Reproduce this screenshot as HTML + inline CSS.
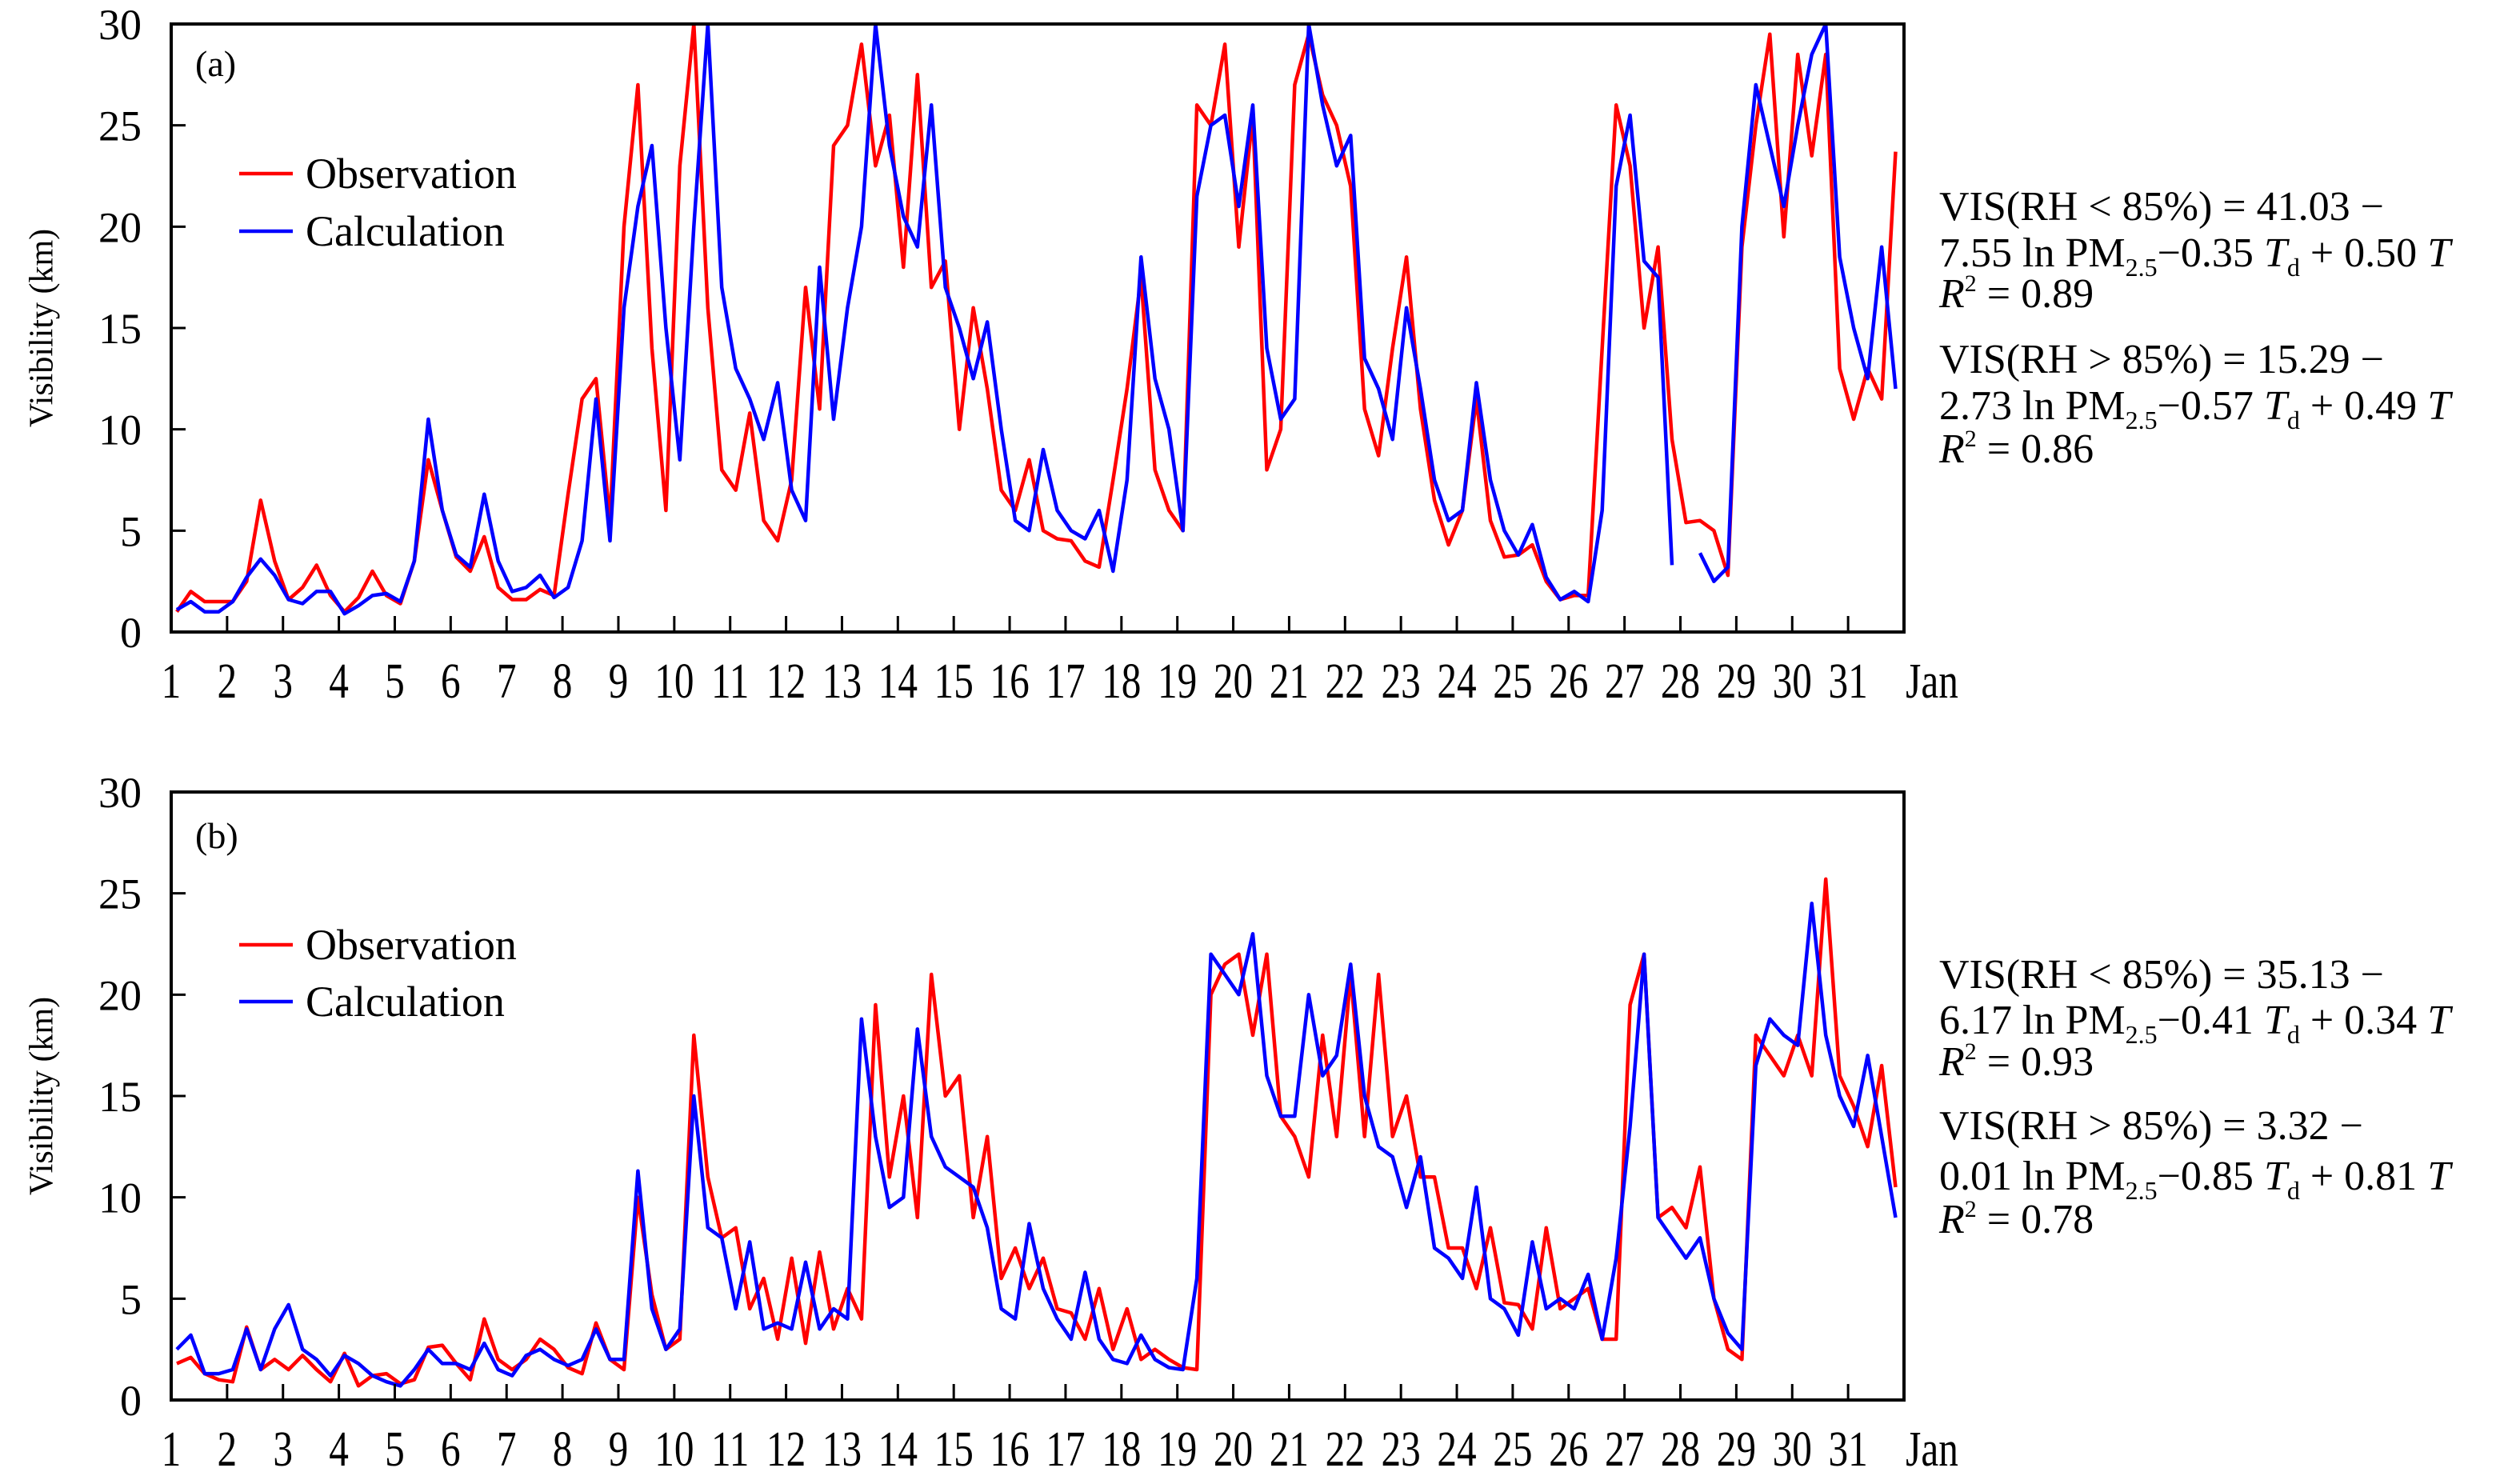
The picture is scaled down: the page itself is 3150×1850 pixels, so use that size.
<!DOCTYPE html>
<html><head><meta charset="utf-8"><style>
html,body{margin:0;padding:0;background:#fff;}
svg{display:block;font-family:"Liberation Serif",serif;}
</style></head><body>
<svg id="chart" width="3150" height="1850" viewBox="0 0 3150 1850" xmlns="http://www.w3.org/2000/svg">
<g id="panelA"></g>
<g id="panelB"></g>
</svg>
<script>
const days = [1,2,3,4,5,6,7,8,9,10,11,12,13,14,15,16,17,18,19,20,21,22,23,24,25,26,27,28,29,30,31];
const yTicks = [0,5,10,15,20,25,30];
const obsA = [1.0,2.0,1.5,1.5, 1.5,2.5,6.5,3.5, 1.6,2.2,3.3,1.8, 1.0,1.7,3.0,1.8, 1.4,3.5,8.5,6.0, 3.7,3.0,4.7,2.2, 1.6,1.6,2.1,1.8, 6.8,11.5,12.5,5.5, 20,27,14,6, 23,30,16,8, 7,10.8,5.5,4.5, 7.5,17,11,24, 25,29,23,25.5, 18,27.5,17,18.3, 10,16,12,7, 6,8.5,5.0,4.6, 4.5,3.5,3.2,7.5, 12,17.5,8,6, 5,26,25,29, 19,25.5,8,10, 27,29.5,26.5,25, 22,11,8.7,14, 18.5,11,6.5,4.3, 6,11.5,5.5,3.7, 3.8,4.3,2.5,1.6, 1.8,1.8,14,26, 23,15,19,9.5, 5.4,5.5,5.0,2.8, 19,25,29.5,19.5, 28.5,23.5,28.5,13, 10.5,13,11.5,23.7];
const calA = [1.1,1.5,1.0,1.0, 1.5,2.7,3.6,2.8, 1.6,1.4,2.0,2.0, 0.9,1.3,1.8,1.9, 1.5,3.5,10.5,6.0, 3.8,3.2,6.8,3.5, 2.0,2.2,2.8,1.7, 2.2,4.5,11.5,4.5, 16,21,24,15, 8.5,20,30,17, 13,11.5,9.5,12.3, 7,5.5,18,10.5, 16,20,30,24, 20.5,19,26,17, 15,12.5,15.3,10, 5.5,5.0,9.0,6.0, 5.0,4.6,6.0,3.0, 7.5,18.5,12.5,10, 5,21.5,25,25.5, 21,26,14,10.5, 11.5,30,26,23, 24.5,13.5,12,9.5, 16,12,7.5,5.5, 6.0,12.3,7.5,5, 3.8,5.3,2.7,1.6, 2.0,1.5,6.0,22, 25.5,18.3,17.5,3.3, null,3.9,2.5,3.2, 20,27,24,21, 25,28.5,30,18.5, 15,12.5,19,12];
const obsB = [1.8,2.1,1.3,1.0, 0.9,3.6,1.5,2.0, 1.5,2.2,1.5,0.9, 2.3,0.7,1.2,1.3, 0.8,1.0,2.6,2.7, 1.8,1.0,4.0,2.0, 1.5,2.0,3.0,2.5, 1.6,1.3,3.8,2.0, 1.5,10,5.2,2.5, 3.0,18,11,8, 8.5,4.5,6.0,3.0, 7.0,2.8,7.3,3.5, 5.5,4.0,19.5,11, 15,9,21,15, 16,9,13,6, 7.5,5.5,7.0,4.5, 4.3,3.0,5.5,2.5, 4.5,2.0,2.5,2.0, 1.6,1.5,20,21.5, 22,18,22,14, 13,11,18,13, 21,13,21,13, 15,11,11,7.5, 7.5,5.5,8.5,4.8, 4.7,3.5,8.5,4.5, 5.0,5.5,3.0,3.0, 19.5,22,9,9.5, 8.5,11.5,5.0,2.5, 2.0,18,17,16, 18,16,25.7,16, 14.5,12.5,16.5,10.5];
const calB = [2.5,3.2,1.3,1.3, 1.5,3.5,1.5,3.5, 4.7,2.5,2.0,1.2, 2.2,1.8,1.2,0.9, 0.7,1.5,2.5,1.8, 1.8,1.5,2.8,1.5, 1.2,2.2,2.5,2.0, 1.7,2.0,3.5,2.0, 2.0,11.3,4.5,2.5, 3.5,15,8.5,8, 4.5,7.8,3.5,3.8, 3.5,6.8,3.5,4.5, 4.0,18.8,13,9.5, 10,18.3,13,11.5, 11,10.5,8.5,4.5, 4.0,8.7,5.5,4.0, 3.0,6.3,3.0,2.0, 1.8,3.2,2.0,1.6, 1.5,6.0,22,21, 20,23,16,14, 14,20,16,17, 21.5,15,12.5,12, 9.5,12,7.5,7.0, 6.0,10.5,5.0,4.5, 3.2,7.8,4.5,5.0, 4.5,6.2,3.0,7.0, 13.5,22,9,8, 7,8,5.0,3.3, 2.5,16.5,18.8,18, 17.5,24.5,18,15, 13.5,17,13,9];
const eqA = ["VIS(RH < 85%) = 41.03 −","7.55 ln PM|2.5|−0.35 T|d| + 0.50 T","R2 = 0.89","VIS(RH > 85%) = 15.29 −","2.73 ln PM|2.5|−0.57 T|d| + 0.49 T","R2 = 0.86"];
const eqB = ["VIS(RH < 85%) = 35.13 −","6.17 ln PM|2.5|−0.41 T|d| + 0.34 T","R2 = 0.93","VIS(RH > 85%) = 3.32 −","0.01 ln PM|2.5|−0.85 T|d| + 0.81 T","R2 = 0.78"];

const NS = "http://www.w3.org/2000/svg";
const L = 214, R = 2380;
function mk(tag, attrs, parent){const e=document.createElementNS(NS,tag);for(const k in attrs)e.setAttribute(k,attrs[k]);parent.appendChild(e);return e;}
function xS(d){return L + (d-1)*(R-L)/31;}

function panel(g, top, bottom, label, obs, cal, eq, eqYs, legYs, labY, clipId){
  const yS = v => bottom - v*(bottom-top)/30;
  const cp = mk('clipPath',{id:clipId},g);
  mk('rect',{x:L,y:top,width:R-L,height:bottom-top},cp);
  [[obs,'#ff0000','observation-line'],[cal,'#0000ff','calculation-line']].forEach(([arr,col,nm])=>{
    let d='', pen=false;
    arr.forEach((v,i)=>{
      if(v===null){pen=false;return;}
      const x=xS(1.1+i*0.25), y=yS(v);
      d += (pen?'L':'M')+x.toFixed(1)+' '+y.toFixed(1)+' ';
      pen=true;
    });
    const p = mk('path',{d:d,fill:'none',stroke:col,'stroke-width':4.5,'stroke-linejoin':'round','clip-path':'url(#'+clipId+')'},g);
    
    
  });
  const fr = mk('rect',{x:L,y:top,width:R-L,height:bottom-top,fill:'none',stroke:'#000','stroke-width':4},g);
  
  
  yTicks.forEach(v=>{
    const y=yS(v);
    const t = mk('line',{x1:L,x2:L+18,y1:y,y2:y,stroke:'#000','stroke-width':3},g);
    
    
    const tx = mk('text',{x:177,y:y+19,'font-size':54,'text-anchor':'end'},g);
    
    
    tx.textContent=v;
  });
  const by = bottom+82;
  days.forEach(dd=>{
    const x=xS(dd);
    if(dd>1){
      const t = mk('line',{x1:x,x2:x,y1:bottom,y2:bottom-20,stroke:'#000','stroke-width':3},g);
      
      
    }
    const tx = mk('text',{x:x,y:by,'font-size':56,'text-anchor':'middle',transform:'translate('+x+' '+by+') scale(0.88 1.12) translate('+(-x)+' '+(-by)+')'},g);
    
    
    tx.textContent=dd;
  });
  const jan = mk('text',{x:2415,y:by,'font-size':56,'text-anchor':'middle',transform:'translate(2415 '+by+') scale(0.88 1.12) translate(-2415 '+(-by)+')'},g);
  
  
  jan.textContent='Jan';
  const cy=(top+bottom)/2;
  const yt = mk('text',{x:56,y:cy,'font-size':42,'text-anchor':'middle',transform:'rotate(-90 56 '+cy+')','dominant-baseline':'middle'},g);
  
  
  yt.textContent='Visibility (km)';
  const pl = mk('text',{x:244,y:labY+15,'font-size':46},g);
  
  
  pl.textContent=label;
  [['Observation','#ff0000',legYs[0],'legend-observation'],['Calculation','#0000ff',legYs[1],'legend-calculation']].forEach(([t,c,y,nm])=>{
    const lg = mk('g',{},g);
    
    
    mk('line',{x1:299,x2:366,y1:y,y2:y,stroke:c,'stroke-width':4.5},lg);
    const tt = mk('text',{x:382,y:y+18,'font-size':54},lg);
    tt.textContent=t;
  });
  eq.forEach((s,i)=>{
    const tx = mk('text',{x:2424,y:eqYs[i]+18,'font-size':52},g);
    
    
    if(s.startsWith('R2')){
      const a=mk('tspan',{'font-style':'italic'},tx);a.textContent='R';
      const b=mk('tspan',{'font-size':30,dy:-20},tx);b.textContent='2';
      const c=mk('tspan',{dy:20},tx);c.textContent=s.slice(2);
      return;
    }
    const parts=s.split('|');
    parts.forEach((p,k)=>{
      if(k%2===1){const t=mk('tspan',{'font-size':32,dy:12},tx);t.textContent=p;}
      else{
        const segs=p.split(/(T)/);
        const first={};
        if(k>0) first.dy=-12;
        let used=false;
        segs.forEach(sg=>{
          if(sg==='')return;
          const at=used?{}:first; used=true;
          if(sg==='T') at['font-style']='italic';
          const t=mk('tspan',at,tx);t.textContent=sg;
        });
      }
    });
  });
}
panel(document.getElementById('panelA'),30,790,'(a)',obsA,calA,eqA,[257,315,366,448,506,560],[217,289],80,'clipA');
panel(document.getElementById('panelB'),990,1750,'(b)',obsB,calB,eqB,[1217,1274,1326,1406,1469,1523],[1181,1252],1045,'clipB');
</script>
</body></html>
